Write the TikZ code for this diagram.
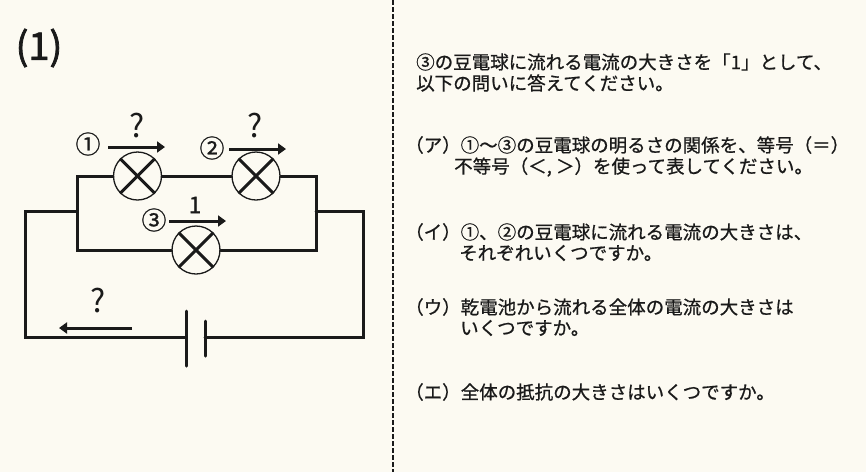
\documentclass[tikz,border=0pt]{standalone}
\usepackage{fontspec}
\setmainfont{Noto Sans CJK JP}
\newfontfamily\medfont{Noto Sans CJK JP}[FakeBold=0.8]
\newfontfamily\boldfont{Noto Sans CJK JP}[FakeBold=2]
\usetikzlibrary{arrows.meta}
\definecolor{bg}{HTML}{FCFAF2}
\definecolor{ink}{HTML}{1A1A1A}
\tikzset{
  wire/.style={line width=3pt, draw=ink, line cap=round, line join=miter},
  bulb/.style={circle, draw=ink, line width=1.3pt, minimum size=48pt, inner sep=0pt, fill=bg},
  xline/.style={line width=3pt, draw=ink},
  cur/.style={line width=3pt, draw=ink, -{Triangle[length=8pt,width=11pt]}},
  lbl/.style={inner sep=0pt, text=ink, font=\medfont\fontsize{25}{27}\selectfont},
  qm/.style={inner sep=0pt, text=ink, font=\fontsize{32}{34}\selectfont},
  txt/.style={anchor=west, inner sep=0pt, text=ink, font=\medfont\fontsize{18.5}{21}\selectfont},
  sep/.style={draw=ink, line width=1.8pt, dash pattern=on 5pt off 2pt},
}
\begin{document}
\begin{tikzpicture}[x=1pt,y=-1pt]
\fill[bg] (0,0) rectangle (866,472);
\useasboundingbox (0,0) rectangle (866,472);

% title
\node[inner sep=0pt, text=ink, font=\boldfont\fontsize{38}{40}\selectfont] (title) at (39,48) {(1)};

% separator
\coordinate (st) at (393,0);
\coordinate (sb) at (393,472);
\draw[sep] (st) -- (sb);

% junction coordinates
\coordinate (itl) at (77,176);
\coordinate (itr) at (316,176);
\coordinate (ibl) at (77,250);
\coordinate (ibr) at (316,250);
\coordinate (ml) at (77,211);
\coordinate (mr) at (316,211);
\coordinate (ol) at (25,211);
\coordinate (or) at (363,211);
\coordinate (obl) at (25,337);
\coordinate (obr) at (363,337);
\coordinate (batL) at (186,337);
\coordinate (batR) at (205,337);

% bulbs and wires
\node[bulb] (b1) at (137.5,176) {};
\node[bulb] (b2) at (256,176) {};
\node[bulb] (b3) at (196,250) {};
\draw[wire] (b1.west) -- (itl) -- (ibl) -- (b3.west);
\draw[wire] (b1.east) -- (b2.west);
\draw[wire] (b2.east) -- (itr) -- (ibr) -- (b3.east);
\draw[wire] (ml) -- (ol) -- (obl) -- (batL);
\draw[wire] (mr) -- (or) -- (obr) -- (batR);

% crosses
\foreach \b in {b1,b2,b3}{
  \draw[xline] (\b.45) -- (\b.225);
  \draw[xline] (\b.135) -- (\b.-45);
}

% battery
\coordinate (lpT) at (186,311);
\coordinate (lpB) at (186,366);
\coordinate (spT) at (205,321);
\coordinate (spB) at (205,356);
\draw[wire] (lpT) -- (lpB);
\draw[wire] (spT) -- (spB);

% current arrows
\coordinate (a1s) at (108,147); \coordinate (a1e) at (165,147);
\coordinate (a2s) at (229,149); \coordinate (a2e) at (286,149);
\coordinate (a3s) at (169,221); \coordinate (a3e) at (226,221);
\coordinate (a4s) at (132,328); \coordinate (a4e) at (59,328);
\draw[cur] (a1s) -- (a1e);
\draw[cur] (a2s) -- (a2e);
\draw[cur] (a3s) -- (a3e);
\draw[cur] (a4s) -- (a4e);

% labels
\node[lbl] (n1) at (88,144) {①};
\node[lbl] (n2) at (212,148) {②};
\node[lbl] (n3) at (154,220) {③};
\node[qm] (q1) at (137,126) {?};
\node[qm] (q2) at (255,126) {?};
\node[qm] (q4) at (98,301) {?};
\node[inner sep=0pt, text=ink, font=\medfont\fontsize{23}{25}\selectfont] (one) at (195,205) {1};

% right text
\node[txt] (t1) at (416,62) {③の豆電球に流れる電流の大きさを「1」として、};
\node[txt] (t2) at (416,83) {以下の問いに答えてください。};
\node[txt] (ta1) at (405,145) {（ア）①〜③の豆電球の明るさの関係を、等号（＝）};
\node[txt] (ta2) at (454,167) {不等号（＜, ＞）を使って表してください。};
\node[txt] (ti1) at (405,232) {（イ）①、②の豆電球に流れる電流の大きさは、};
\node[txt] (ti2) at (459,253) {それぞれいくつですか。};
\node[txt] (tu1) at (405,307) {（ウ）乾電池から流れる全体の電流の大きさは};
\node[txt] (tu2) at (460,328) {いくつですか。};
\node[txt] (te1) at (405,392) {（エ）全体の抵抗の大きさはいくつですか。};
\end{tikzpicture}
\end{document}
